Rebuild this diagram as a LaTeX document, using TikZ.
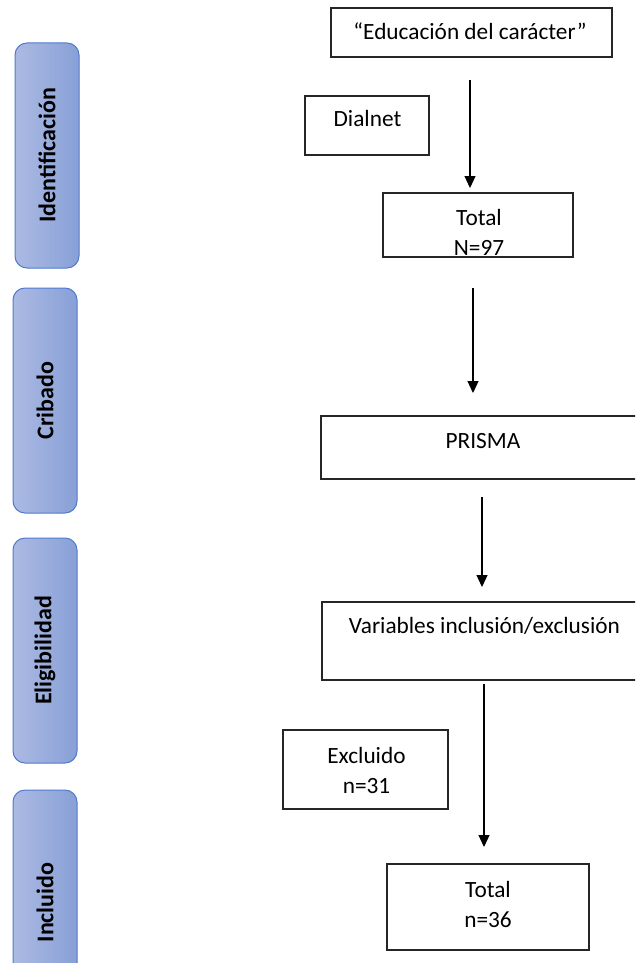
\documentclass[tikz,border=0pt]{standalone}
\usepackage{fontspec}
\setmainfont{Carlito}
\usetikzlibrary{arrows.meta}
\definecolor{barL}{RGB}{172,186,227}
\definecolor{barR}{RGB}{136,160,215}
\definecolor{barB}{RGB}{80,122,205}
\begin{document}
\begin{tikzpicture}[x=1pt,y=-1pt,
  stage/.style={draw=barB, line width=1pt, rounded corners=12pt, left color=barL, right color=barR,
    minimum width=64pt, minimum height=225pt, inner sep=0pt},
  stagelbl/.style={rotate=90, inner sep=0pt, font=\fontsize{24}{28}\selectfont\bfseries},
  box/.style={draw=black!85, line width=1.2pt, fill=white, inner sep=0pt},
  txt/.style={inner sep=0pt, align=center, font=\fontsize{23.3}{30}\selectfont},
  arr/.style={line width=1.2pt, -{Triangle[length=12pt,width=11pt]}}]
\useasboundingbox (0,0) rectangle (635,963);
\clip (0,0) rectangle (635,963);
% stage bars
\node[stage] (ident) at (47,155.5) {};
\node[stagelbl] (identL) at (ident.center) {Identificación};
\node[stage] (crib) at (45,400.5) {};
\node[stagelbl] (cribL) at (crib.center) {Cribado};
\node[stage] (elig) at (45,650.5) {};
\node[stagelbl] (eligL) at (elig.center) {Eligibilidad};
\node[stage] (incl) at (45,902.5) {};
\node[stagelbl] (inclL) at (incl.center) {Incluido};
% boxes
\node[box, minimum width=281pt, minimum height=49pt] (edu) at (471.5,32.5) {};
\node[txt, anchor=base] (eduT) at (470,40) {“Educación del carácter”};
\node[box, minimum width=124pt, minimum height=59pt] (dial) at (367,125.5) {};
\node[txt, anchor=base] (dialT) at (367.5,127) {Dialnet};
\node[box, minimum width=190pt, minimum height=64pt] (tot1) at (478,225) {};
\node[txt] (tot1T) at (479,232) {Total\\N=97};
\node[box, minimum width=324pt, minimum height=63pt] (prisma) at (483,447.5) {};
\node[txt, anchor=base] (prismaT) at (483,448) {PRISMA};
\node[box, minimum width=325pt, minimum height=78pt] (vars) at (484.5,641) {};
\node[txt, anchor=base] (varsT) at (484.5,633) {Variables inclusión/exclusión};
\node[box, minimum width=165pt, minimum height=79pt] (excl) at (365.5,769.5) {};
\node[txt] (exclT) at (366.5,770) {Excluido\\n=31};
\node[box, minimum width=202pt, minimum height=86pt] (tot2) at (488,907) {};
\node[txt] (tot2T) at (488,904) {Total\\n=36};
% arrows
\coordinate (a1s) at (470,80);  \coordinate (a1e) at (470,188);
\coordinate (a2s) at (473,288); \coordinate (a2e) at (473,393);
\coordinate (a3s) at (482,497); \coordinate (a3e) at (482,587);
\coordinate (a4s) at (484,684); \coordinate (a4e) at (484,847);
\draw[arr] (a1s) -- (a1e);
\draw[arr] (a2s) -- (a2e);
\draw[arr] (a3s) -- (a3e);
\draw[arr] (a4s) -- (a4e);
\end{tikzpicture}
\end{document}
